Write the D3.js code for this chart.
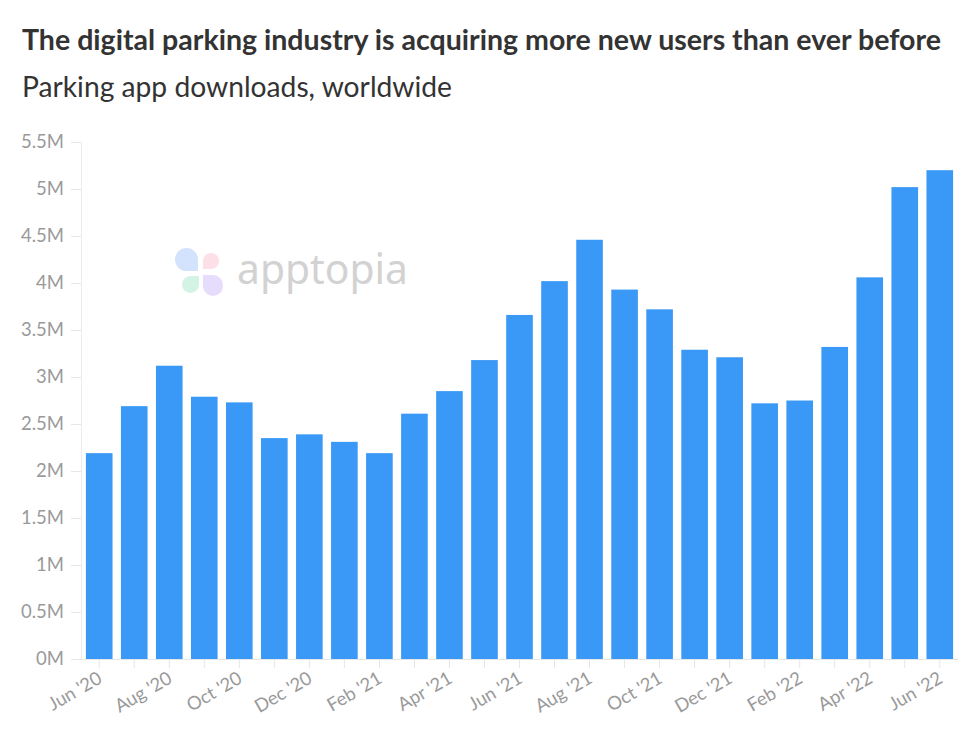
<!DOCTYPE html>
<html><head><meta charset="utf-8">
<script src="https://cdn.jsdelivr.net/npm/d3@7"></script>
<style>body{margin:0;background:#fff;} svg{display:block;}</style>
</head><body>
<svg id="c" width="980" height="730"></svg>
<script>
const months = ["Jun '20","Jul '20","Aug '20","Sep '20","Oct '20","Nov '20","Dec '20","Jan '21","Feb '21","Mar '21","Apr '21","May '21","Jun '21","Jul '21","Aug '21","Sep '21","Oct '21","Nov '21","Dec '21","Jan '22","Feb '22","Mar '22","Apr '22","May '22","Jun '22"];
const downloads = [2.19,2.69,3.12,2.79,2.73,2.35,2.39,2.31,2.19,2.61,2.85,3.18,3.66,4.02,4.46,3.93,3.72,3.29,3.21,2.72,2.75,3.32,4.06,5.02,5.20];
const yTicks = [0,0.5,1,1.5,2,2.5,3,3.5,4,4.5,5,5.5];
const title = "The digital parking industry is acquiring more new users than ever before";
const subtitle = "Parking app downloads, worldwide";

const svg = d3.select("#c");
const font = "Lato, 'Open Sans', sans-serif";
const x = d3.scaleBand().domain(months).range([81, 958]).paddingInner(0.24).paddingOuter(0.14);
const y = d3.scaleLinear().domain([0,5.5]).range([659,142]);

svg.append("text").attr("x",22).attr("y",50).attr("font-family",font).attr("font-weight",700)
  .attr("font-size",28).attr("fill","#333").attr("textLength",919).attr("lengthAdjust","spacingAndGlyphs").text(title);
svg.append("text").attr("x",22).attr("y",97).attr("font-family",font).attr("font-weight",400)
  .attr("font-size",28).attr("fill","#333").attr("textLength",430).attr("lengthAdjust","spacingAndGlyphs").text(subtitle);

// watermark: four leaf-shaped petals, sharp corner toward the centre
function petal(x0,y0,x1,y1,sharp){
  const r = Math.min(x1-x0,y1-y0)/2;
  const rr = [r,r,r,r]; // tl,tr,br,bl
  rr[sharp]=0;
  return `M${x0+rr[0]},${y0}H${x1-rr[1]}A${rr[1]},${rr[1]} 0 0 1 ${x1},${y0+rr[1]}`+
    `V${y1-rr[2]}A${rr[2]},${rr[2]} 0 0 1 ${x1-rr[2]},${y1}`+
    `H${x0+rr[3]}A${rr[3]},${rr[3]} 0 0 1 ${x0},${y1-rr[3]}`+
    `V${y0+rr[0]}A${rr[0]},${rr[0]} 0 0 1 ${x0+rr[0]},${y0}Z`;
}
const logo = svg.append("g");
[[175,248,198,271,2,"#d3e3fd"],[203,253,219,269,3,"#fde0e7"],[182,276,199,293,1,"#d3f3e4"],[203,275,223,296,0,"#e6ddfd"]].forEach(d=>{
  logo.append("path").attr("d",petal(d[0],d[1],d[2],d[3],d[4])).attr("fill",d[5]);
});
logo.append("text").attr("x",237).attr("y",284).attr("font-family","'Noto Sans', 'Open Sans', sans-serif")
  .attr("font-size",41).attr("fill","#d2d2d2").attr("textLength",171).attr("lengthAdjust","spacingAndGlyphs").text("apptopia");

// y axis
const yAxis = d3.axisLeft(y).tickValues(yTicks).tickFormat(d=>d+"M").tickSize(10).tickPadding(7);
const gy = svg.append("g").attr("transform","translate(81,0)").call(yAxis);
gy.select(".domain").attr("stroke","#ececec");
gy.selectAll(".tick line").attr("stroke","#e6e6e6");
gy.selectAll(".tick text").attr("font-family",font).attr("font-size",18.5).attr("fill","#9a9a9a");

// bars
svg.append("g").selectAll("rect").data(downloads).join("rect")
  .attr("x",(d,i)=>x(months[i])).attr("width",x.bandwidth())
  .attr("y",d=>y(d)).attr("height",d=>y(0)-y(d)).attr("fill","#3a99f6");

// x axis
const xAxis = d3.axisBottom(x).tickSize(9).tickFormat((d,i)=> i%2===0 ? d : "");
const gx = svg.append("g").attr("transform","translate(0,659)").call(xAxis);
gx.select(".domain").attr("stroke","#e6e6e6").attr("d","M71,0.5H958");
gx.selectAll(".tick line").attr("stroke","#e6e6e6");
gx.selectAll(".tick text").attr("font-family",font).attr("font-size",18.5).attr("fill","#9a9a9a")
  .attr("text-anchor","end").attr("x",0).attr("y",0).attr("dy",0)
  .attr("transform","translate(4,23) rotate(-30)");
</script>
</body></html>
